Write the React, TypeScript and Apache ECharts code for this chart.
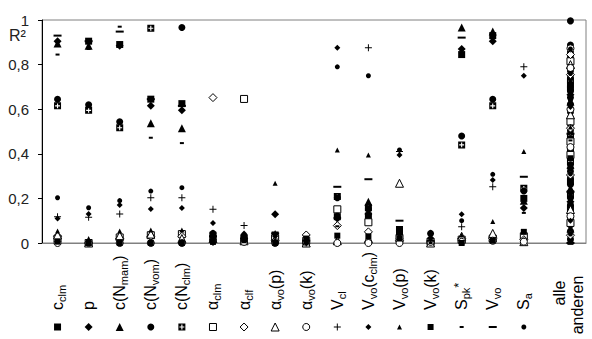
import React, { useEffect, useRef } from 'react';
import * as echarts from 'echarts';

const CATEGORIES = [
  '{b|c}{s|clm}',
  '{b|p}',
  '{b|c(N}{s|mam}{b|)}',
  '{b|c(N}{s|vom}{b|)}',
  '{b|c(N}{s|clm}{b|)}',
  '{b|α}{s|clm}',
  '{b|α}{s|clf}',
  '{b|α}{s|vo}{b|(p)}',
  '{b|α}{s|vo}{b|(k)}',
  '{b|V}{s|cl}',
  '{b|V}{s|vo}{b|(c}{s|clm}{b|)}',
  '{b|V}{s|vo}{b|(p)}',
  '{b|V}{s|vo}{b|(k)}',
  '{b|S}{s|pk}{p|*}',
  '{b|V}{s|vo}',
  '{b|S}{s|a}',
];
const CATEGORY_X = [1, 2, 3, 4, 5, 6, 7, 8, 9, 10, 11, 12, 13, 14, 15, 16];
const OTHER_X = 17.5;
const OTHER_LABEL = ['alle', 'anderen'];
const Y_TICKS = [0, 0.2, 0.4, 0.6, 0.8, 1];

const R_CCLM = [null, 0.905, 0.89, 0.645, 0.625, 0.02, 0.025, 0.036, 0.0, 0.118, 0.121, 0.043, 0.006, 0.845, 0.93, 0.2];
const R_P = [0.905, null, 0.885, 0.615, 0.595, 0.005, 0.01, 0.129, 0.0, 0.11, 0.13, 0.02, 0.02, 0.87, 0.905, 0.157];
const R_CNMAM = [0.895, 0.885, null, 0.537, 0.515, 0.03, 0.02, 0.04, 0.0, 0.13, 0.185, 0.054, 0.022, 0.966, 0.948, 0.19];
const R_CNVOM = [0.645, 0.62, 0.544, null, 0.966, 0.043, 0.015, 0.006, 0.006, 0.203, 0.152, 0.058, 0.043, 0.48, 0.645, 0.233];
const R_CNCLM = [0.615, 0.595, 0.517, 0.963, null, 0.035, 0.02, 0.02, 0.0, 0.208, 0.158, 0.061, 0.0, 0.44, 0.615, 0.245];
const R_ACLM = [0.02, 0.0, 0.025, 0.035, 0.04, null, 0.646, 0.02, 0.01, 0.151, 0.093, 0.02, 0.005, 0.015, 0.02, 0.03];
const R_ACLF = [0.03, 0.0, 0.02, 0.03, 0.03, 0.652, null, 0.01, 0.036, 0.078, 0.05, 0.01, 0.0, 0.02, 0.02, 0.015];
const R_AVOP = [0.036, 0.0, 0.033, 0.04, 0.02, 0.02, 0.01, null, 0.0, 0.01, 0.02, 0.268, 0.0, 0.03, 0.043, 0.006];
const R_AVOK = [0.0, 0.0, 0.0, 0.0, 0.0, 0.01, 0.005, 0.0, null, 0.0, 0.0, 0.0, 0.005, 0.005, 0.01, 0.006];
const R_VCL = [0.118, 0.115, 0.13, 0.203, 0.203, 0.151, 0.078, 0.01, 0.0, null, 0.876, 0.41, 0.01, 0.073, 0.252, 0.79];
const R_VVOCCLM = [0.11, 0.13, 0.17, 0.152, 0.157, 0.09, 0.043, 0.03, 0.0, 0.876, null, 0.395, 0.022, 0.129, 0.282, 0.75];
const R_VVOP = [0.054, 0.02, 0.054, 0.058, 0.058, 0.03, 0.01, 0.268, 0.0, 0.417, 0.395, null, 0.022, 0.036, 0.096, 0.41];
const R_VVOK = [0.006, 0.0, 0.0, 0.0, 0.0, 0.005, 0.015, 0.0, 0.02, 0.033, 0.03, 0.02, null, 0.0, 0.01, 0.05];
const R_SPK = [0.845, 0.87, 0.97, 0.472, 0.448, 0.02, 0.02, 0.03, 0.01, 0.075, 0.13, 0.036, 0.0, null, 0.921, 0.135];
const R_VVO = [0.93, 0.905, 0.948, 0.645, 0.615, 0.03, 0.02, 0.043, 0.01, 0.252, 0.286, 0.1, 0.01, 0.921, null, 0.297];
const R_SA = [0.203, 0.158, 0.19, 0.233, 0.248, 0.036, 0.015, 0.006, 0.006, 0.79, 0.75, 0.417, 0.043, 0.1, 0.308, null];

const O_CCLM = [0.695, 0.42, 0.275, 0.155];
const O_P = [0.665, 0.335, 0.185];
const O_CNMAM = [0.635, 0.245, 0.065];
const O_CNVOM = [0.996, 0.888, 0.856, 0.832, 0.805, 0.771, 0.742, 0.713, 0.681, 0.652, 0.622, 0.588, 0.561, 0.532, 0.503, 0.469, 0.441, 0.409, 0.382, 0.351, 0.322, 0.291, 0.262, 0.229, 0.203, 0.171, 0.139, 0.112, 0.081, 0.052, 0.018];
const O_CNCLM = [0.725, 0.48, 0.365, 0.215];
const O_ACLM = [0.815, 0.545, 0.455, 0.395, 0.09];
const O_ACLF = [0.845, 0.755, 0.515, 0.305, 0.035];
const O_AVOP = [0.8, 0.575, 0.15];
const O_AVOK = [0.873, 0.785, 0.6, 0.43, 0.12];
const O_VCL = [0.7, 0.34];
const O_VVOCCLM = [0.61, 0.2, 0.1];
const O_VVOP = [0.52, 0.28];
const O_VVOK = [0.38, 0.005];
const O_SPK = [0.46, 0.17];
const O_VVO = [0.49, 0.23, 0.0];
const O_SA = [0.87, 0.76, 0.64, 0.31, 0.04];

const SERIES_VALUES = [R_CCLM, R_P, R_CNMAM, R_CNVOM, R_CNCLM, R_ACLM, R_ACLF, R_AVOP, R_AVOK, R_VCL, R_VVOCCLM, R_VVOP, R_VVOK, R_SPK, R_VVO, R_SA];
const OTHER_VALUES = [O_CCLM, O_P, O_CNMAM, O_CNVOM, O_CNCLM, O_ACLM, O_ACLF, O_AVOP, O_AVOK, O_VCL, O_VVOCCLM, O_VVOP, O_VVOK, O_SPK, O_VVO, O_SA];

const BOXPLUS = 'path://M0,0H10V10H0Z M4.2,1.5V4.2H1.5V5.8H4.2V8.5H5.8V5.8H8.5V4.2H5.8V1.5Z';
const PLUS = 'path://M4.3,0H5.7V4.3H10V5.7H5.7V10H4.3V5.7H0V4.3H4.3Z';
type Marker = { symbol: string; size: number | number[]; hollow?: boolean };
const MARKERS: Marker[] = [
  { symbol: 'rect', size: 7 },
  { symbol: 'diamond', size: 8 },
  { symbol: 'triangle', size: 8 },
  { symbol: 'circle', size: 7 },
  { symbol: BOXPLUS, size: 7 },
  { symbol: 'rect', size: 7, hollow: true },
  { symbol: 'diamond', size: 8, hollow: true },
  { symbol: 'triangle', size: 8, hollow: true },
  { symbol: 'circle', size: 7, hollow: true },
  { symbol: PLUS, size: 7 },
  { symbol: 'diamond', size: 6 },
  { symbol: 'triangle', size: 5 },
  { symbol: 'rect', size: 6 },
  { symbol: 'rect', size: [4, 2] },
  { symbol: 'rect', size: [8, 2] },
  { symbol: 'circle', size: 5 },
];

const FONT = '"Liberation Sans", Arial, sans-serif';
const RICH = {
  b: { fontSize: 16, fontFamily: FONT, fill: '#000', lineHeight: 20 },
  s: { fontSize: 11, fontFamily: FONT, fill: '#000', lineHeight: 11, verticalAlign: 'bottom' },
  p: { fontSize: 13, fontFamily: FONT, fill: '#000', lineHeight: 11, verticalAlign: 'top' },
};

function markerStyle(m: Marker) {
  return m.hollow
    ? { color: '#ffffff', borderColor: '#000000', borderWidth: 1, opacity: 1 }
    : { color: '#000000', borderWidth: 0, opacity: 1 };
}

export default function App() {
  const ref = useRef<HTMLDivElement>(null);
  useEffect(() => {
    const chart = echarts.init(ref.current!, null, { renderer: 'svg' });
    const series: any[] = MARKERS.map((m, si) => {
      const pts: number[][] = [];
      SERIES_VALUES[si].forEach((v, ci) => {
        if (v !== null) pts.push([CATEGORY_X[ci], v as number]);
      });
      OTHER_VALUES[si].forEach((v) => pts.push([OTHER_X, v]));
      return {
        type: 'scatter', xAxisIndex: 0, yAxisIndex: 0, data: pts,
        symbol: m.symbol, symbolSize: m.size, itemStyle: markerStyle(m),
        silent: true, clip: false, emphasis: { disabled: true },
      };
    });
    series.push({
      type: 'scatter', xAxisIndex: 1, yAxisIndex: 1, silent: true, emphasis: { disabled: true },
      data: MARKERS.map((m, i) => ({ value: [CATEGORY_X[i], 0], symbol: m.symbol, symbolSize: m.size, itemStyle: markerStyle(m) })),
    });

    const option: any = {
      animation: false,
      backgroundColor: '#ffffff',
      textStyle: { fontFamily: FONT },
      grid: [
        { left: 42, right: 6, top: 20, height: 223, show: true, borderColor: '#808080', borderWidth: 1, backgroundColor: 'transparent', outerBoundsMode: 'none' },
        { left: 42, right: 6, top: 318, height: 18, show: false, outerBoundsMode: 'none' },
      ],
      xAxis: [
        {
          type: 'value', gridIndex: 0, min: 0.5, max: 18,
          splitLine: { show: false }, axisTick: { show: false },
          axisLine: { show: true, lineStyle: { color: '#808080', width: 1 } },
          axisLabel: { show: false },
        },
        { type: 'value', gridIndex: 1, min: 0.5, max: 18, show: false },
      ],
      yAxis: [
        {
          type: 'value', gridIndex: 0, min: 0, max: 1, interval: 0.2,
          splitLine: { show: false },
          axisLine: { show: true, lineStyle: { color: '#000', width: 1 } },
          axisTick: { show: true, length: 4, lineStyle: { color: '#000' } },
          axisLabel: {
            margin: 13, color: '#222', fontSize: 15, fontFamily: FONT,
            formatter: (v: number) => {
              const r = Math.round(v * 10) / 10;
              const t = Y_TICKS.find((x) => Math.abs(x - r) < 1e-9);
              return t === undefined ? '' : String(t).replace('.', ',');
            },
          },
        },
        { type: 'value', gridIndex: 1, min: -1, max: 1, show: false },
      ],
      series,
    };
    chart.setOption(option);

    const py = chart.convertToPixel({ yAxisIndex: 0 }, 0) as number;
    const px = chart.convertToPixel({ xAxisIndex: 0 }, OTHER_X) as number;
    const labelEls: any[] = CATEGORIES.map((txt, i) => {
      const cx = chart.convertToPixel({ xAxisIndex: 0 }, CATEGORY_X[i]) as number;
      return {
        type: 'text', x: cx, y: py + 67, rotation: Math.PI / 2, silent: true,
        style: { text: txt, rich: RICH, fill: '#000', align: 'left', verticalAlign: 'middle' },
      };
    });
    chart.setOption({
      graphic: [
        { type: 'text', left: 9, top: 27, silent: true, style: { text: 'R²', fontSize: 16, fontFamily: FONT, fill: '#222' } },
        ...labelEls,
        { type: 'text', x: px - 11, y: py + 50, rotation: Math.PI / 2, silent: true, style: { text: OTHER_LABEL[0], fontSize: 16, fontFamily: FONT, fill: '#000', align: 'center', verticalAlign: 'middle' } },
        { type: 'text', x: px + 7, y: py + 62, rotation: Math.PI / 2, silent: true, style: { text: OTHER_LABEL[1], fontSize: 16, fontFamily: FONT, fill: '#000', align: 'center', verticalAlign: 'middle' } },
      ],
    });

    return () => chart.dispose();
  }, []);
  return <div ref={ref} style={{ position: 'absolute', left: 0, top: 0, width: 592, height: 339 }} />;
}
